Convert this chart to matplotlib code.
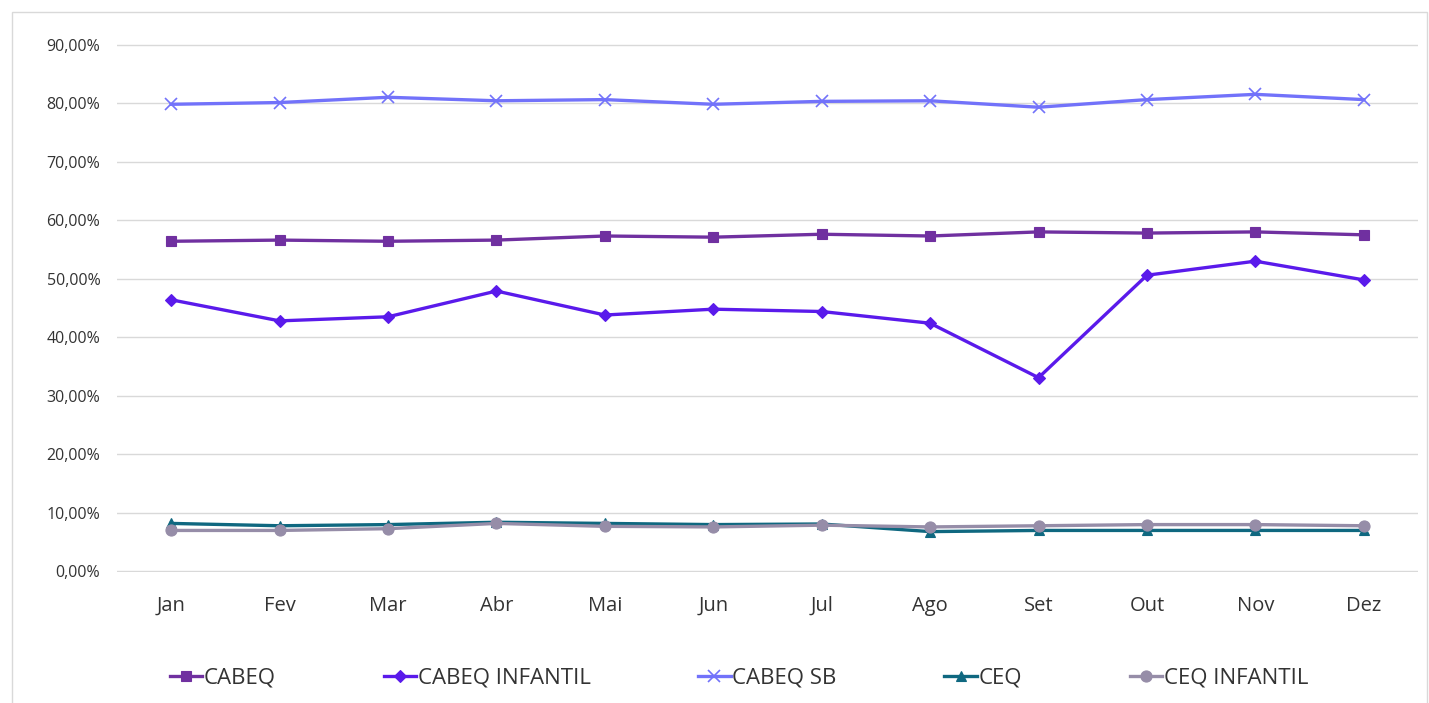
import matplotlib
matplotlib.use("Agg")
import matplotlib.pyplot as plt
from matplotlib.ticker import FuncFormatter, MultipleLocator
from matplotlib.patches import Rectangle

plt.rcParams['font.family'] = ['Open Sans', 'DejaVu Sans']

months = ["Jan", "Fev", "Mar", "Abr", "Mai", "Jun", "Jul", "Ago", "Set", "Out", "Nov", "Dez"]
cabeq = [56.4, 56.6, 56.4, 56.6, 57.3, 57.1, 57.6, 57.3, 58.0, 57.8, 58.0, 57.5]
cabeq_infantil = [46.4, 42.8, 43.5, 47.9, 43.8, 44.8, 44.4, 42.4, 33.1, 50.6, 53.0, 49.8]
cabeq_sb = [79.8, 80.1, 81.0, 80.4, 80.6, 79.8, 80.3, 80.4, 79.3, 80.6, 81.5, 80.6]
ceq = [8.2, 7.8, 8.0, 8.4, 8.2, 8.0, 8.1, 6.8, 7.0, 7.0, 7.0, 7.0]
ceq_infantil = [7.0, 7.0, 7.3, 8.2, 7.7, 7.6, 7.9, 7.6, 7.8, 8.0, 8.0, 7.8]

series = [
    ("CABEQ", cabeq, "#7030A0", "s", 7),
    ("CABEQ INFANTIL", cabeq_infantil, "#5A1AEB", "D", 6),
    ("CABEQ SB", cabeq_sb, "#7272FA", "x", 8),
    ("CEQ", ceq, "#0F6880", "^", 7),
    ("CEQ INFANTIL", ceq_infantil, "#968DA8", "o", 8),
]

fig = plt.figure(figsize=(14.29, 7.03), dpi=100)
ax = fig.add_axes([117/1429, 1 - 572/703, (1418-117)/1429, (572-44)/703])

x = list(range(len(months)))
for name, vals, color, marker, ms in series:
    ax.plot(x, vals, color=color, linewidth=2.4, marker=marker, markersize=ms,
            markeredgewidth=1.2 if marker == "x" else 0.8, markeredgecolor=color,
            markerfacecolor=color, label=name, solid_joinstyle='round')

ax.set_xlim(-0.5, 11.5)
ax.set_ylim(-0.1, 90.1)
ax.yaxis.set_major_locator(MultipleLocator(10))
ax.yaxis.set_major_formatter(FuncFormatter(lambda v, p: f"{v:.2f}%".replace(".", ",")))
ax.set_xticks(x)
ax.set_xticklabels(months, fontsize=14.5, color="#333333")
ax.tick_params(axis='y', labelsize=11.5, colors="#333333", length=0, pad=12)
ax.tick_params(axis='x', length=0, pad=17)
ax.grid(axis='y', color="#d9d9d9", linewidth=1)
ax.set_axisbelow(True)
for s in ax.spines.values():
    s.set_visible(False)

fig.patches.append(Rectangle((12/1429, -0.1), (1427-12)/1429, 1 - 12/703 + 0.1,
                             transform=fig.transFigure, fill=False,
                             edgecolor="#d9d9d9", linewidth=1))

leg = fig.legend(loc="center", bbox_to_anchor=(739/1429, 1 - 678/703), ncol=5,
                 frameon=False, fontsize=16, handlelength=1.45, handletextpad=0.08,
                 columnspacing=4.85, labelcolor="#333333")

fig.savefig("out.png", dpi=100)
